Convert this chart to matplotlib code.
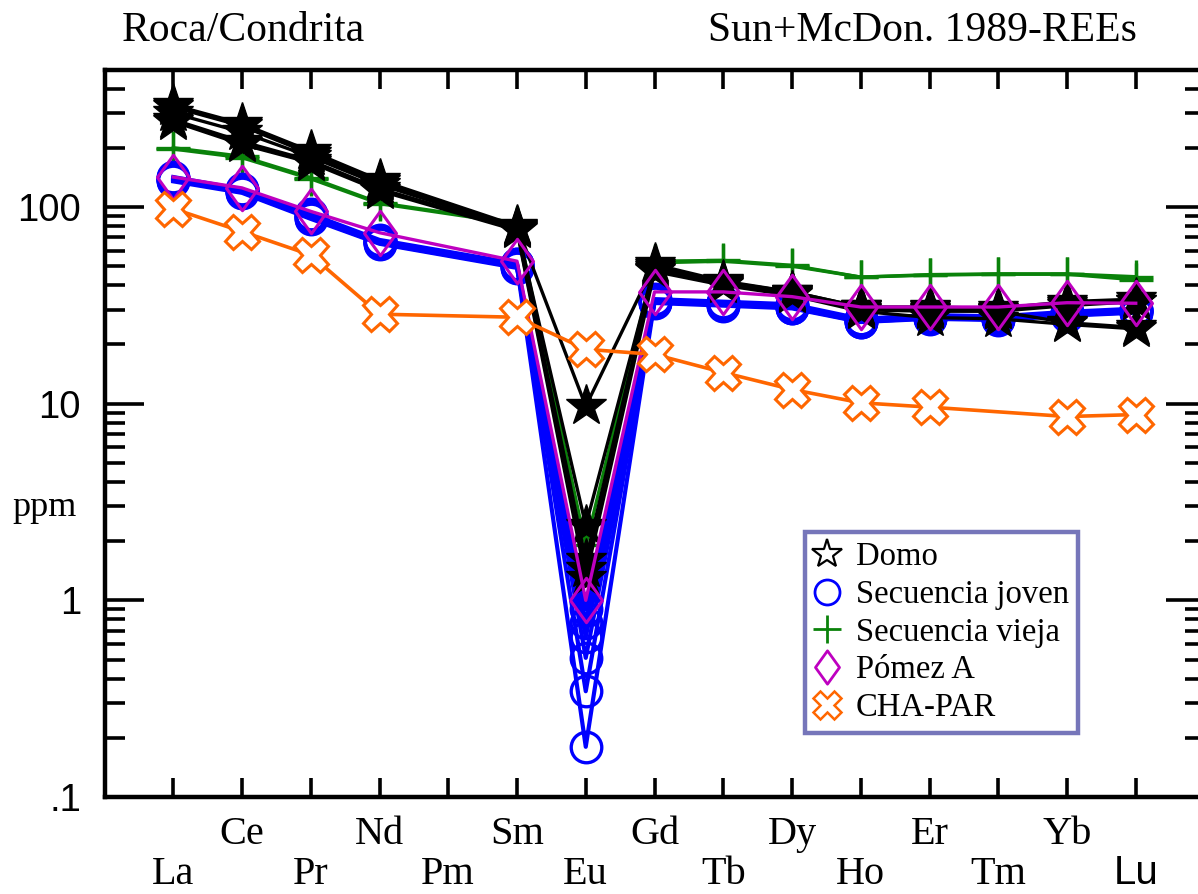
import matplotlib
matplotlib.use("Agg")
import matplotlib.pyplot as plt
import matplotlib.transforms as mtransforms
from matplotlib.lines import Line2D
from matplotlib.path import Path

# Chondrite-normalised REE patterns (Sun & McDonough 1989)
elements = ["La", "Ce", "Pr", "Nd", "Pm", "Sm", "Eu", "Gd",
            "Tb", "Dy", "Ho", "Er", "Tm", "Yb", "Lu"]
measured = ["La", "Ce", "Pr", "Nd", "Sm", "Eu", "Gd",
            "Tb", "Dy", "Ho", "Er", "Tm", "Yb", "Lu"]

domo = [
    [330, 265, 192, 137, 80, 9.7, 51, 42, 37, 31, 30, 29.5, 25.8, 24.4],
    [322, 258, 186, 134, 79, 2.4, 50, 41.5, 37, 31, 31, 30.5, 33, 34],
    [300, 240, 180, 130, 78, 1.6, 49, 41, 36.5, 30.5, 30.5, 30, 32, 33],
    [278, 215, 172, 124, 77, 1.45, 48, 40.5, 36, 30, 29.5, 29.5, 31.5, 33],
    [272, 208, 168, 121, 76, 1.3, 47, 40, 35.5, 29.5, 27.4, 27, 25.3, 24],
]
secuencia_joven = [
    [138, 120, 89, 66, 50, 0.18, 33, 32, 31, 26.3, 27.4, 27, 28.5, 29.5],
    [140, 122, 91, 67, 51, 0.345, 33.5, 32.5, 31.5, 26.8, 27.8, 27.5, 29, 30],
    [135, 118, 87, 65, 49, 0.51, 32.5, 31.5, 30.5, 26, 27, 26.6, 28, 29],
    [142, 123, 92, 68, 51.5, 0.65, 34, 33, 32, 27, 28.2, 27.8, 29.3, 30.4],
    [137, 119, 88, 65.5, 49.5, 0.77, 32.8, 31.8, 30.8, 26.1, 27.2, 26.8, 28.2, 29.2],
    [139, 121, 90, 66.5, 50.5, 0.9, 33.2, 32.3, 31.3, 26.6, 27.6, 27.2, 28.8, 29.8],
]
secuencia_vieja = [
    [200, 181, 141, 105, 83, 1.5, 53, 53.5, 50.5, 44, 45.3, 45.7, 45.7, 44.2],
    [197, 178, 139, 104, 82, 1.9, 52, 53, 50, 44, 45, 45.5, 45.5, 42.6],
]
pomez_a = [
    [142, 125, 95, 74, 53, 1.0, 37, 37, 35, 31, 31, 31, 32.6, 32.4],
]
cha_par = [
    [98, 75, 57, 28.5, 27.5, 18.9, 17.8, 14.4, 11.8, 10.1, 9.6, None, 8.6, 8.8],
]

series_labels = ["Domo", "Secuencia joven", "Secuencia vieja", "Pómez A", "CHA-PAR"]

SERIF = "Liberation Serif"
SANS = "Liberation Sans"

# narrow hollow diamond
diamond = Path([(0, 1), (0.72, 0), (0, -1), (-0.72, 0), (0, 1)],
               [Path.MOVETO, Path.LINETO, Path.LINETO, Path.LINETO, Path.CLOSEPOLY])

W, H = 1198, 894
fig = plt.figure(figsize=(W / 100, H / 100), dpi=100)
ax = fig.add_axes([104.5 / W, 1 - 797 / H, 1100 / W, 727.5 / H])
ax.set_yscale("log")


def draw_group(rows, color, z, **kw):
    for row in rows:
        xs = [elements.index(el) + 1 for el, v in zip(measured, row) if v is not None]
        ys = [v for v in row if v is not None]
        ax.plot(xs, ys, color=color, zorder=z, **kw)


draw_group(secuencia_vieja, "#0A820A", 2, lw=2.4, marker="+", ms=24, mew=2.4)
draw_group(secuencia_joven, "#0000FF", 3, lw=3.0, marker="o", ms=22, mfc="none",
           mec="#0000FF", mew=2.4)
draw_group(domo, "black", 4, lw=2.4, marker="*", ms=31, mfc="black", mec="black")
draw_group(pomez_a, "#BE00C0", 5, lw=2.4, marker=diamond, ms=32, mfc="none",
           mec="#BE00C0", mew=2.2)
draw_group(cha_par, "#FF6600", 6, lw=2.6, marker="X", ms=25, mfc="white",
           mec="#FF6600", mew=2.2)

ax.set_xlim(0, 16)
ax.set_ylim(0.1, 500)

for sp in ax.spines.values():
    sp.set_linewidth(3.2)

ax.set_xticks(range(1, len(elements) + 1))
ax.set_xticklabels([])
ax.tick_params(axis="x", which="both", direction="in", top=True, bottom=True,
               length=14, width=2.6)
ax.tick_params(axis="x", which="minor", length=0)

ax.set_yticks([0.1, 1, 10, 100])
ax.set_yticklabels([".1", "1", "10", "100"], fontfamily=SANS, fontsize=27.5)
ax.tick_params(axis="y", which="both", direction="in", left=True, right=True,
               width=2.6, pad=17)
ax.tick_params(axis="y", which="major", length=28)
ax.tick_params(axis="y", which="minor", length=14.5)

# element names in two staggered rows
row_tr = mtransforms.blended_transform_factory(ax.transData, fig.transFigure)
for i, el in enumerate(elements):
    lower = (i % 2 == 0)
    y = 1 - (884 / H if lower else 844 / H)
    fam = SANS if el == "Lu" else SERIF
    ax.text(i + 1, y, el, transform=row_tr, ha="center", va="baseline",
            fontsize=29, fontfamily=fam, clip_on=False)

fig.text(122 / W, 1 - 41 / H, "Roca/Condrita", fontsize=30, fontfamily=SERIF,
         ha="left", va="baseline")
fig.text(1137 / W, 1 - 41 / H, "Sun+McDon. 1989-REEs", fontsize=30, fontfamily=SERIF,
         ha="right", va="baseline")
fig.text(12 / W, 1 - 507 / H, "ppm", fontsize=26, fontfamily=SERIF,
         ha="left", va="center")

handles = [
    Line2D([], [], ls="none", marker="*", ms=22, mfc="white", mec="black", mew=1.6),
    Line2D([], [], ls="none", marker="o", ms=18, mfc="none", mec="#0000FF", mew=2.0),
    Line2D([], [], ls="none", marker="+", ms=20, mec="#0A820A", mew=2.0),
    Line2D([], [], ls="none", marker=diamond, ms=24, mfc="none", mec="#BE00C0", mew=2.0),
    Line2D([], [], ls="none", marker="X", ms=20, mfc="white", mec="#FF6600", mew=1.8),
]
leg = fig.legend(handles, series_labels, loc="upper left",
                 bbox_to_anchor=(805 / W, 1 - 532 / H), bbox_transform=fig.transFigure,
                 prop={"family": SERIF, "size": 23.5}, frameon=True, fancybox=False,
                 borderpad=0.3, handlelength=0.75, handletextpad=0.5,
                 labelspacing=0.22, borderaxespad=0)
leg.get_frame().set_edgecolor("#7676BA")
leg.get_frame().set_linewidth(3.2)
leg.get_frame().set_alpha(1)

fig.savefig("out.png", dpi=100)
